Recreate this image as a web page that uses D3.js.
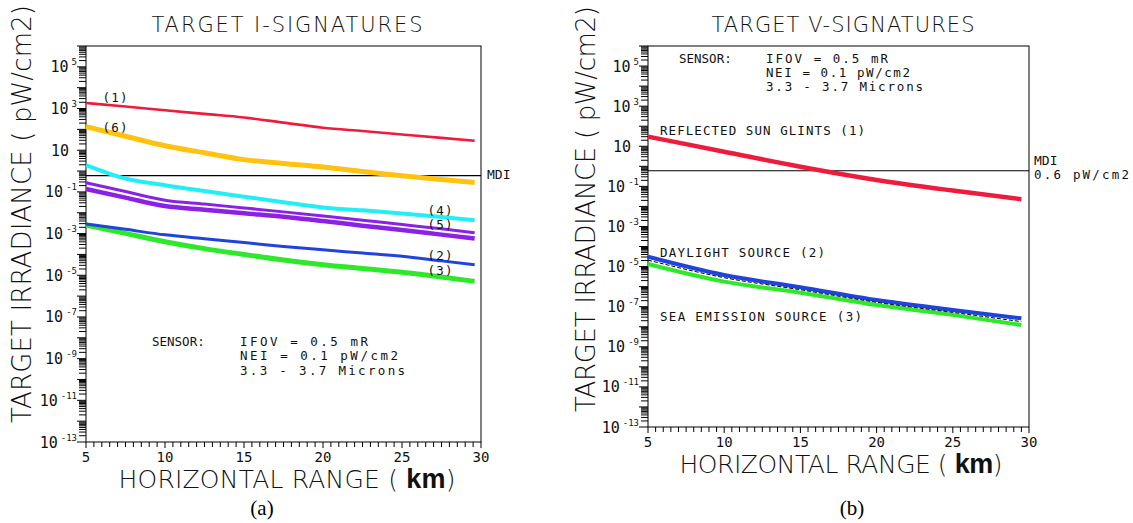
<!DOCTYPE html>
<html>
<head>
<meta charset="utf-8">
<script src="https://cdn.jsdelivr.net/npm/d3@7"></script>
<style>
  html, body { margin: 0; padding: 0; background: #fff; }
  svg { display: block; }
  .mono { font-family: "DejaVu Sans Mono", "Liberation Mono", monospace; }
  .big { font-family: "DejaVu Sans", "Liberation Sans", sans-serif; font-weight: 200; }
</style>
</head>
<body>
<svg id="chart" width="1133" height="523"></svg>
<script>
// ---------------- DATA ----------------
// Panel (a): TARGET I-SIGNATURES
const rangeKmA = [5, 7.5, 10, 12.5, 15, 17.5, 20, 22.5, 25, 27.5, 29.6];
const iSig1 = [1840, 1240, 822, 552, 371, 211, 120, 83, 57, 39, 28.6];
const iSig6 = [134.6, 46.5, 16.4, 7.5, 3.54, 2.30, 1.56, 0.96, 0.59, 0.39, 0.28];
const iSig4 = [1.95, 0.44, 0.21, 0.11, 0.059, 0.032, 0.018, 0.013, 0.0092, 0.0062, 0.0044];
const iSig5a = [0.276, 0.104, 0.040, 0.026, 0.017, 0.011, 0.0070, 0.0044, 0.0027, 0.0017, 0.0011];
const iSig5b = [0.137, 0.053, 0.021, 0.014, 0.0094, 0.0064, 0.0040, 0.0024, 0.0015, 0.00089, 0.00058];
const iSig2 = [2.9e-3, 1.6e-3, 8.7e-4, 5.6e-4, 3.7e-4, 2.4e-4, 1.66e-4, 1.17e-4, 8.2e-5, 4.9e-5, 3.2e-5];
const iSig3 = [2.58e-3, 1.02e-3, 4.03e-4, 1.9e-4, 1.0e-4, 5.4e-5, 3.2e-5, 2.1e-5, 1.38e-5, 8.3e-6, 5.1e-6];
const iSeriesLabels = ["(1)", "(6)", "(4)", "(5)", "(2)", "(3)"];

// Panel (b): TARGET V-SIGNATURES
const rangeKmB = [5, 10, 15, 20, 25, 29.5];
const vSunGlints = [30.2, 5.37, 0.955, 0.209, 0.0617, 0.0229];
const vDaylight = [3.09e-5, 3.8e-6, 9.3e-7, 2.14e-7, 6.9e-8, 2.63e-8];
const vSeaEmission = [1.35e-5, 1.78e-6, 5.0e-7, 1.2e-7, 3.9e-8, 1.23e-8];
const vReference = [2.1e-5, 2.8e-6, 7.0e-7, 1.66e-7, 5.2e-8, 1.8e-8];
const vSeriesLabels = ["REFLECTED SUN GLINTS (1)", "DAYLIGHT SOURCE (2)", "SEA EMISSION SOURCE (3)"];

// Shared
const mdiLevel = 0.6;
const yTickExponents = [5, 3, 1, -1, -3, -5, -7, -9, -11, -13];
const xTickLabels = [5, 10, 15, 20, 25, 30];
const sensorLines = ["IFOV = 0.5 mR", "NEI = 0.1 pW/cm2", "3.3 - 3.7 Microns"];

// ---------------- DRAWING ----------------
const svg = d3.select("#chart");

function makePanel(cfg) {
  const g = svg.append("g");
  const x = d3.scaleLinear().domain([5, 30]).range([cfg.x0, cfg.x1]);
  const y = d3.scaleLog().domain([1e-13, 1e6]).range([cfg.yBot, cfg.yTop]);

  // y ticks (major + minor, outward on the left)
  const ticks = [];
  for (let k = -13; k < 6; k++) {
    for (let m = 1; m <= 9; m++) ticks.push({ v: m * Math.pow(10, k), major: m === 1 });
  }
  ticks.push({ v: 1e6, major: true });
  g.append("g").selectAll("line").data(ticks).join("line")
    .attr("x1", d => cfg.x0 - (d.major ? 9 : 7)).attr("x2", cfg.x0)
    .attr("y1", d => y(d.v)).attr("y2", d => y(d.v))
    .attr("stroke", "#000").attr("stroke-width", 1);

  // x ticks every 0.5 km
  const xt = d3.range(5, 30.01, 0.5);
  g.append("g").selectAll("line").data(xt).join("line")
    .attr("x1", d => x(d)).attr("x2", d => x(d))
    .attr("y1", cfg.yBot).attr("y2", d => cfg.yBot + (d % 5 === 0 ? 6 : 5))
    .attr("stroke", "#000").attr("stroke-width", 1);

  // frame
  g.append("rect").attr("x", cfg.x0).attr("y", cfg.yTop)
    .attr("width", cfg.x1 - cfg.x0).attr("height", cfg.yBot - cfg.yTop)
    .attr("fill", "none").attr("stroke", "#000").attr("stroke-width", 1);

  // y tick labels
  const yl = g.append("g").attr("class", "mono");
  yTickExponents.forEach(e => {
    const t = yl.append("text")
      .attr("x", e === 1 ? cfg.x0 - 17 : cfg.x0 - 9)
      .attr("y", y(Math.pow(10, e)) + 5.5)
      .attr("text-anchor", "end").attr("font-size", 15).attr("fill", "#111");
    t.append("tspan").text("10");
    if (e !== 1) {
      t.append("tspan").attr("dx", 3).attr("dy", -7).attr("font-size", 9).text(String(e));
    }
  });

  // x tick labels
  g.append("g").attr("class", "mono").selectAll("text").data(xTickLabels).join("text")
    .attr("x", d => x(d)).attr("y", cfg.yBot + 15)
    .attr("text-anchor", "middle").attr("dominant-baseline", "central")
    .attr("font-size", 14).attr("fill", "#111").text(d => d);

  // title
  g.append("text").attr("class", "big")
    .attr("x", cfg.titleX).attr("y", 25).attr("dominant-baseline", "central")
    .attr("text-anchor", "middle").attr("font-size", 21).attr("fill", "#111")
    .attr("textLength", cfg.titleW).attr("lengthAdjust", "spacing")
    .text(cfg.title);

  // y axis title
  g.append("text").attr("class", "big")
    .attr("transform", `translate(${cfg.yLabX},${cfg.yLabY}) rotate(-90)`)
    .attr("text-anchor", "middle").attr("dominant-baseline", "central")
    .attr("font-size", 26).attr("fill", "#111")
    .attr("textLength", cfg.yLabW).attr("lengthAdjust", "spacing")
    .text("TARGET IRRADIANCE ( pW/cm2)");

  // x axis title
  const xl = g.append("text").attr("class", "big")
    .attr("x", cfg.xLabX).attr("y", cfg.xLabY)
    .attr("text-anchor", "middle").attr("dominant-baseline", "central")
    .attr("font-size", 25).attr("fill", "#111")
    .attr("textLength", cfg.xLabW).attr("lengthAdjust", "spacing");
  xl.append("tspan").text("HORIZONTAL RANGE ( ");
  xl.append("tspan").attr("font-family", "Liberation Sans, Arial, sans-serif")
    .attr("font-weight", "bold").attr("font-size", 27).text("km");
  xl.append("tspan").text(")");

  // MDI line
  g.append("line").attr("x1", cfg.x0).attr("x2", cfg.x1)
    .attr("y1", y(mdiLevel)).attr("y2", y(mdiLevel))
    .attr("stroke", "#000").attr("stroke-width", 1.2);

  // caption
  g.append("text").attr("x", cfg.capX).attr("y", 508)
    .attr("text-anchor", "middle").attr("dominant-baseline", "central")
    .attr("font-family", "Liberation Serif, Times New Roman, serif")
    .attr("font-size", 21).attr("fill", "#000").text(cfg.caption);

  // sensor block
  const s = g.append("g").attr("class", "mono").attr("fill", "#111").attr("font-size", 12.5);
  s.append("text").attr("x", cfg.sensorX).attr("y", cfg.sensorY)
    .attr("dominant-baseline", "central").text("SENSOR:");
  sensorLines.forEach((t, i) => {
    s.append("text").attr("x", cfg.sensorX2).attr("y", cfg.sensorY + i * cfg.sensorDy)
      .attr("dominant-baseline", "central")
      .attr("textLength", cfg.sensorW[i]).attr("lengthAdjust", "spacing").text(t);
  });

  return { g, x, y };
}

function drawSeries(p, xs, ys, color, width, dash) {
  const line = d3.line()
    .x((d, i) => p.x(xs[i]))
    .y(d => p.y(d))
    .curve(d3.curveMonotoneX);
  p.g.append("path").datum(ys).attr("d", line)
    .attr("fill", "none").attr("stroke", color).attr("stroke-width", width)
    .attr("stroke-dasharray", dash || null)
    .attr("stroke-linejoin", "round");
}

// ---- Panel (a)
const pa = makePanel({
  x0: 86, x1: 481, yTop: 46, yBot: 442,
  title: "TARGET I-SIGNATURES", titleX: 287, titleW: 271,
  yLabX: 22, yLabY: 214, yLabW: 418,
  xLabX: 287, xLabY: 479, xLabW: 337,
  capX: 262, caption: "(a)",
  sensorX: 152, sensorX2: 240, sensorY: 341, sensorDy: 14.7, sensorW: [128, 158, 165]
});
drawSeries(pa, rangeKmA, iSig1, "#ee1c3c", 2.6);
drawSeries(pa, rangeKmA, iSig6, "#ffc20e", 5);
drawSeries(pa, rangeKmA, iSig4, "#22eef6", 4);
drawSeries(pa, rangeKmA, iSig5b, "#8a22e6", 4.5);
drawSeries(pa, rangeKmA, iSig5a, "#8a22e6", 3);
drawSeries(pa, rangeKmA, iSig3, "#2ee82a", 5);
drawSeries(pa, rangeKmA, iSig2, "#1f44dc", 3);

const labA = pa.g.append("g").attr("class", "mono").attr("font-size", 12.5).attr("fill", "#111");
const labPosA = [[115, 97], [115, 127], [440, 210], [440, 224], [440, 255], [440, 270]];
iSeriesLabels.forEach((t, i) => {
  labA.append("text").attr("x", labPosA[i][0]).attr("y", labPosA[i][1])
    .attr("text-anchor", "middle").attr("dominant-baseline", "central")
    .attr("textLength", 25).attr("lengthAdjust", "spacing").text(t);
});
labA.append("text").attr("x", 487).attr("y", pa.y(mdiLevel) - 1)
  .attr("dominant-baseline", "central").attr("font-size", 13).text("MDI");

// ---- Panel (b)
const pb = makePanel({
  x0: 648, x1: 1029, yTop: 46, yBot: 427,
  title: "TARGET V-SIGNATURES", titleX: 843, titleW: 263,
  yLabX: 586, yLabY: 209, yLabW: 406,
  xLabX: 841, xLabY: 464, xLabW: 323,
  capX: 852, caption: "(b)",
  sensorX: 679, sensorX2: 766, sensorY: 58, sensorDy: 14, sensorW: [122, 144, 157]
});
drawSeries(pb, rangeKmB, vSunGlints, "#ee1c3c", 4.5);
drawSeries(pb, rangeKmB, vDaylight, "#1f44dc", 4);
drawSeries(pb, rangeKmB, vSeaEmission, "#2ee82a", 4);
drawSeries(pb, rangeKmB, vReference, "#000", 1, "4,2");

const labB = pb.g.append("g").attr("class", "mono").attr("font-size", 12.5).attr("fill", "#111");
const labPosB = [[660, 130, 205], [660, 252, 165], [660, 316, 202]];
vSeriesLabels.forEach((t, i) => {
  labB.append("text").attr("x", labPosB[i][0]).attr("y", labPosB[i][1])
    .attr("dominant-baseline", "central")
    .attr("textLength", labPosB[i][2]).attr("lengthAdjust", "spacing").text(t);
});
labB.append("text").attr("x", 1034).attr("y", pb.y(mdiLevel) - 10)
  .attr("dominant-baseline", "central").attr("font-size", 13).text("MDI");
labB.append("text").attr("x", 1034).attr("y", pb.y(mdiLevel) + 4)
  .attr("dominant-baseline", "central").attr("font-size", 12.5)
  .attr("textLength", 95).attr("lengthAdjust", "spacing").text("0.6 pW/cm2");
</script>
</body>
</html>
